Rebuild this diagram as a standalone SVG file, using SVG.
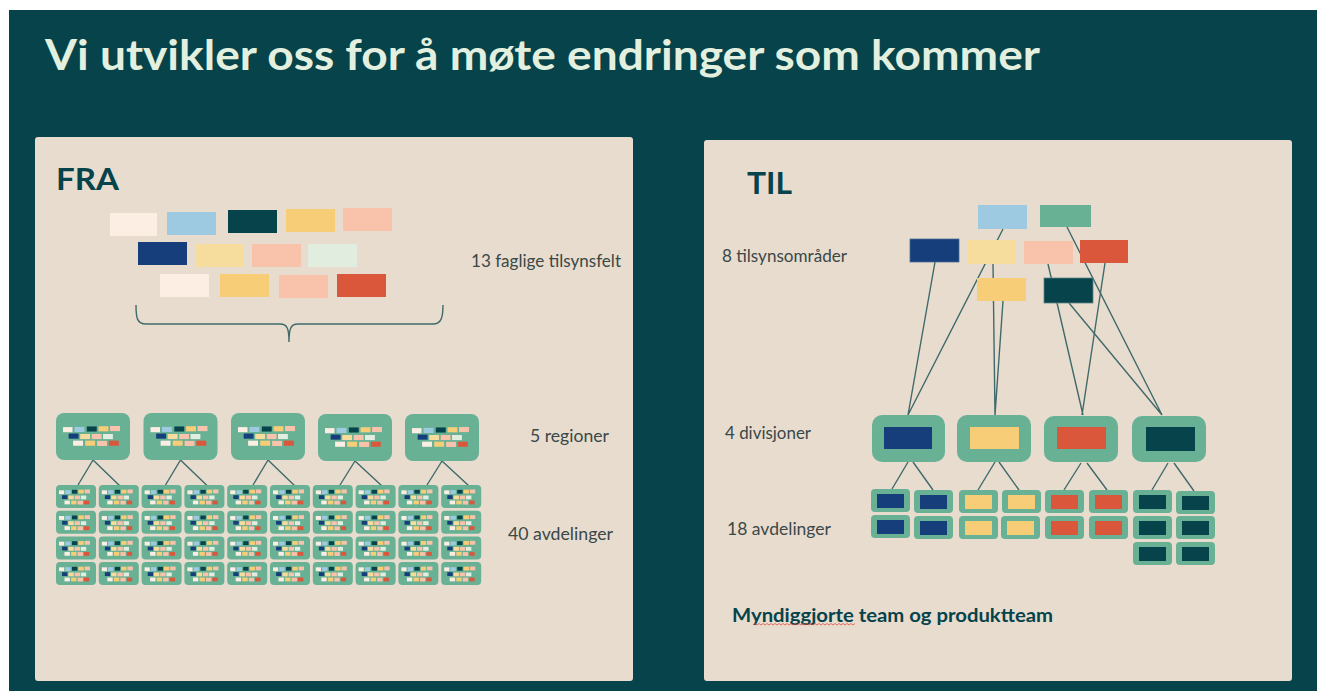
<svg xmlns="http://www.w3.org/2000/svg" xmlns:xlink="http://www.w3.org/1999/xlink" width="1317" height="691" viewBox="0 0 1317 691">
<style>
.title{font-family:Lato,"Open Sans","Liberation Sans",sans-serif;font-weight:bold;font-size:42px;fill:#e3f0df}
.head{font-family:Lato,"Open Sans","Liberation Sans",sans-serif;font-weight:bold;font-size:31px;fill:#06434b}
.lbl{font-family:Lato,"Open Sans","Liberation Sans",sans-serif;font-size:16.5px;fill:#3a4848}
.foot{font-family:Lato,"Open Sans","Liberation Sans",sans-serif;font-weight:bold;font-size:18.5px;fill:#06434b}
.panel{fill:#e8dccf}
.con{stroke:#3f6a6a;stroke-width:1.4;fill:none}
.rbox{fill:#68b195}
.c-lt{fill:#fdeee4}.c-bl{fill:#9ecae1}.c-tl{fill:#06434b}.c-ye{fill:#f8cd78}.c-pe{fill:#f8c3aa}
.c-nv{fill:#153e7a}.c-ly{fill:#f6dd9e}.c-lg{fill:#e1eedf}.c-rd{fill:#db573b}.c-gr{fill:#68b195}
</style>
<defs>
<g id="pal">
<rect class="c-lt" x="0" y="5" width="47" height="23"/>
<rect class="c-bl" x="57" y="4" width="49" height="23"/>
<rect class="c-tl" x="118" y="2" width="49" height="23"/>
<rect class="c-ye" x="176" y="1" width="49" height="23"/>
<rect class="c-pe" x="233" y="0" width="49" height="23"/>
<rect class="c-nv" x="28" y="34" width="49" height="23"/>
<rect class="c-ly" x="85" y="36" width="49" height="23"/>
<rect class="c-pe" x="142" y="36" width="49" height="23"/>
<rect class="c-lg" x="198" y="36" width="49" height="23"/>
<rect class="c-lt" x="50" y="66" width="49" height="23"/>
<rect class="c-ye" x="110" y="66" width="49" height="23"/>
<rect class="c-pe" x="169" y="67" width="49" height="23"/>
<rect class="c-rd" x="227" y="66" width="49" height="23"/>
</g>
<g id="reg">
<rect class="rbox" x="0" y="0" width="74" height="47" rx="8"/>
<use xlink:href="#pal" href="#pal" transform="translate(7,13) scale(0.202,0.222)"/>
</g>
<g id="avd">
<rect class="rbox" x="0" y="0" width="40" height="23" rx="4"/>
<use xlink:href="#pal" href="#pal" transform="translate(3,4.5) scale(0.11,0.167)"/>
</g>
<g id="tnv"><rect class="rbox" width="39" height="23" rx="4"/><rect class="c-nv" x="6" y="5" width="27" height="14"/></g>
<g id="tye"><rect class="rbox" width="39" height="23" rx="4"/><rect class="c-ye" x="6" y="5" width="27" height="14"/></g>
<g id="trd"><rect class="rbox" width="39" height="23" rx="4"/><rect class="c-rd" x="6" y="5" width="27" height="14"/></g>
<g id="ttl"><rect class="rbox" width="39" height="23" rx="4"/><rect class="c-tl" x="6" y="5" width="27" height="14"/></g>
</defs>

<rect x="0" y="0" width="1317" height="691" fill="#ffffff"/>
<rect x="9" y="10" width="1308" height="681" fill="#06434b"/>
<text class="title" x="45" y="70" textLength="995" lengthAdjust="spacingAndGlyphs">Vi utvikler oss for å møte endringer som kommer</text>

<g id="panel-fra">
<rect class="panel" x="35" y="137" width="598" height="544" rx="3"/>
<text class="head" x="56" y="190" textLength="63" lengthAdjust="spacingAndGlyphs">FRA</text>
<text class="lbl" x="471" y="267" textLength="150" lengthAdjust="spacingAndGlyphs">13 faglige tilsynsfelt</text>
<text class="lbl" x="530" y="442" textLength="79" lengthAdjust="spacingAndGlyphs">5 regioner</text>
<text class="lbl" x="508" y="540" textLength="105" lengthAdjust="spacingAndGlyphs">40 avdelinger</text>
</g>
<g id="panel-til">
<rect class="panel" x="704" y="140" width="588" height="541" rx="3"/>
<text class="head" x="747" y="194" textLength="45" lengthAdjust="spacingAndGlyphs">TIL</text>
<text class="lbl" x="722" y="262" textLength="125" lengthAdjust="spacingAndGlyphs">8 tilsynsområder</text>
<text class="lbl" x="725" y="439" textLength="86" lengthAdjust="spacingAndGlyphs">4 divisjoner</text>
<text class="lbl" x="727" y="535" textLength="104" lengthAdjust="spacingAndGlyphs">18 avdelinger</text>
<text class="foot" x="732" y="622" textLength="321" lengthAdjust="spacingAndGlyphs">Myndiggjorte team og produktteam</text>
<path d="M753,625 l2,-1.5 l2,1.5 l2,-1.5 l2,1.5 l2,-1.5 l2,1.5 l2,-1.5 l2,1.5 l2,-1.5 l2,1.5 l2,-1.5 l2,1.5 l2,-1.5 l2,1.5 l2,-1.5 l2,1.5 l2,-1.5 l2,1.5 l2,-1.5 l2,1.5 l2,-1.5 l2,1.5 l2,-1.5 l2,1.5 l2,-1.5 l2,1.5 l2,-1.5 l2,1.5 l2,-1.5 l2,1.5 l2,-1.5 l2,1.5 l2,-1.5 l2,1.5 l2,-1.5 l2,1.5 l2,-1.5 l2,1.5 l2,-1.5 l2,1.5 l2,-1.5 l2,1.5 l2,-1.5 l2,1.5 l2,-1.5 l2,1.5 l2,-1.5 l2,1.5 l2,-1.5 l2,1.5 l2,-1.5" fill="none" stroke="#e0504a" stroke-width="0.8"/>
</g>

<g id="connectors">
<path class="con" d="M136,305 C136,318 137,324 146,324 L280,324 C287,324 289,328 289,342 C289,328 291,324 298,324 L433,324 C441,324 443,318 443,305"/>
<path class="con" d="M93,460 L78,485 M93,460 L120,486"/>
<path class="con" d="M180.5,460 L165.5,485 M180.5,460 L207.5,486"/>
<path class="con" d="M268,460 L253,485 M268,460 L295,486"/>
<path class="con" d="M355,461 L340,485 M355,461 L382,486"/>
<path class="con" d="M442,461 L427,485 M442,461 L469,486"/>
<path class="con" d="M1003,229 L908,415 M935,262 L908,415"/>
<path class="con" d="M993,264 L995,415 M1003,301 L995,415"/>
<path class="con" d="M1048,264 L1083,415 M1105,263 L1082,415"/>
<path class="con" d="M1067,227 L1162,415 M1069,303 L1162,415"/>
<path class="con" d="M908,462 L892,489 M913,462 L933,490"/>
<path class="con" d="M995,462 L978,490 M999,462 L1019,490"/>
<path class="con" d="M1081,463 L1064,490 M1087,463 L1107,490"/>
<path class="con" d="M1168,463 L1152,490 M1174,463 L1194,491"/>
</g>

<g id="fra-felt">
<use xlink:href="#pal" href="#pal" x="110" y="208"/>
</g>

<g id="fra-regioner">
<use xlink:href="#reg" href="#reg" x="56" y="413"/>
<use xlink:href="#reg" href="#reg" x="143.5" y="413"/>
<use xlink:href="#reg" href="#reg" x="231" y="413"/>
<use xlink:href="#reg" href="#reg" x="318" y="414"/>
<use xlink:href="#reg" href="#reg" x="405" y="414"/>
</g>

<g id="fra-avdelinger">
<use xlink:href="#avd" href="#avd" x="56" y="485"/><use xlink:href="#avd" href="#avd" x="98.8" y="485"/><use xlink:href="#avd" href="#avd" x="141.6" y="485"/><use xlink:href="#avd" href="#avd" x="184.4" y="485"/><use xlink:href="#avd" href="#avd" x="227.2" y="485"/><use xlink:href="#avd" href="#avd" x="270" y="485"/><use xlink:href="#avd" href="#avd" x="312.8" y="485"/><use xlink:href="#avd" href="#avd" x="355.6" y="485"/><use xlink:href="#avd" href="#avd" x="398.4" y="485"/><use xlink:href="#avd" href="#avd" x="441.2" y="485"/>
<use xlink:href="#avd" href="#avd" x="56" y="510.7"/><use xlink:href="#avd" href="#avd" x="98.8" y="510.7"/><use xlink:href="#avd" href="#avd" x="141.6" y="510.7"/><use xlink:href="#avd" href="#avd" x="184.4" y="510.7"/><use xlink:href="#avd" href="#avd" x="227.2" y="510.7"/><use xlink:href="#avd" href="#avd" x="270" y="510.7"/><use xlink:href="#avd" href="#avd" x="312.8" y="510.7"/><use xlink:href="#avd" href="#avd" x="355.6" y="510.7"/><use xlink:href="#avd" href="#avd" x="398.4" y="510.7"/><use xlink:href="#avd" href="#avd" x="441.2" y="510.7"/>
<use xlink:href="#avd" href="#avd" x="56" y="536.4"/><use xlink:href="#avd" href="#avd" x="98.8" y="536.4"/><use xlink:href="#avd" href="#avd" x="141.6" y="536.4"/><use xlink:href="#avd" href="#avd" x="184.4" y="536.4"/><use xlink:href="#avd" href="#avd" x="227.2" y="536.4"/><use xlink:href="#avd" href="#avd" x="270" y="536.4"/><use xlink:href="#avd" href="#avd" x="312.8" y="536.4"/><use xlink:href="#avd" href="#avd" x="355.6" y="536.4"/><use xlink:href="#avd" href="#avd" x="398.4" y="536.4"/><use xlink:href="#avd" href="#avd" x="441.2" y="536.4"/>
<use xlink:href="#avd" href="#avd" x="56" y="562"/><use xlink:href="#avd" href="#avd" x="98.8" y="562"/><use xlink:href="#avd" href="#avd" x="141.6" y="562"/><use xlink:href="#avd" href="#avd" x="184.4" y="562"/><use xlink:href="#avd" href="#avd" x="227.2" y="562"/><use xlink:href="#avd" href="#avd" x="270" y="562"/><use xlink:href="#avd" href="#avd" x="312.8" y="562"/><use xlink:href="#avd" href="#avd" x="355.6" y="562"/><use xlink:href="#avd" href="#avd" x="398.4" y="562"/><use xlink:href="#avd" href="#avd" x="441.2" y="562"/>
</g>

<g id="til-omrader">
<rect id="o-blue" class="c-bl" x="978" y="205" width="49" height="24"/>
<rect id="o-green" class="c-gr" x="1040" y="205" width="51" height="22"/>
<rect id="o-navy" class="c-nv" x="910" y="239" width="49" height="23" stroke="#4f6f95" stroke-width="0.8"/>
<rect id="o-lyellow" class="c-ly" x="967" y="240" width="49" height="24"/>
<rect id="o-peach" class="c-pe" x="1024" y="241" width="49" height="23"/>
<rect id="o-red" class="c-rd" x="1080" y="240" width="48" height="23"/>
<rect id="o-yellow" class="c-ye" x="977" y="278" width="49" height="23"/>
<rect id="o-teal" class="c-tl" x="1044" y="278" width="49" height="25" stroke="#5d8585" stroke-width="0.8"/>
</g>

<g id="til-divisjoner">
<g id="div1"><rect class="rbox" x="872" y="415" width="73" height="47" rx="10"/><rect class="c-nv" x="884" y="427" width="48" height="22"/></g>
<g id="div2"><rect class="rbox" x="957" y="415" width="74" height="47" rx="10"/><rect class="c-ye" x="970" y="427" width="49" height="22"/></g>
<g id="div3"><rect class="rbox" x="1044" y="416" width="74" height="46" rx="10"/><rect class="c-rd" x="1057" y="427" width="49" height="22"/></g>
<g id="div4"><rect class="rbox" x="1132" y="416" width="74" height="46" rx="10"/><rect class="c-tl" x="1146" y="427" width="49" height="24"/></g>
</g>

<g id="til-avdelinger">
<use xlink:href="#tnv" href="#tnv" x="871" y="489"/><use xlink:href="#tnv" href="#tnv" x="914" y="490"/>
<use xlink:href="#tnv" href="#tnv" x="871" y="515"/><use xlink:href="#tnv" href="#tnv" x="914" y="516"/>
<use xlink:href="#tye" href="#tye" x="959" y="490"/><use xlink:href="#tye" href="#tye" x="1002" y="490"/>
<use xlink:href="#tye" href="#tye" x="959" y="516"/><use xlink:href="#tye" href="#tye" x="1001" y="516"/>
<use xlink:href="#trd" href="#trd" x="1045" y="490"/><use xlink:href="#trd" href="#trd" x="1089" y="490"/>
<use xlink:href="#trd" href="#trd" x="1045" y="516"/><use xlink:href="#trd" href="#trd" x="1089" y="516"/>
<use xlink:href="#ttl" href="#ttl" x="1133" y="490"/><use xlink:href="#ttl" href="#ttl" x="1176" y="491"/>
<use xlink:href="#ttl" href="#ttl" x="1133" y="516"/><use xlink:href="#ttl" href="#ttl" x="1176" y="516"/>
<use xlink:href="#ttl" href="#ttl" x="1133" y="542"/><use xlink:href="#ttl" href="#ttl" x="1176" y="542"/>
</g>
</svg>
